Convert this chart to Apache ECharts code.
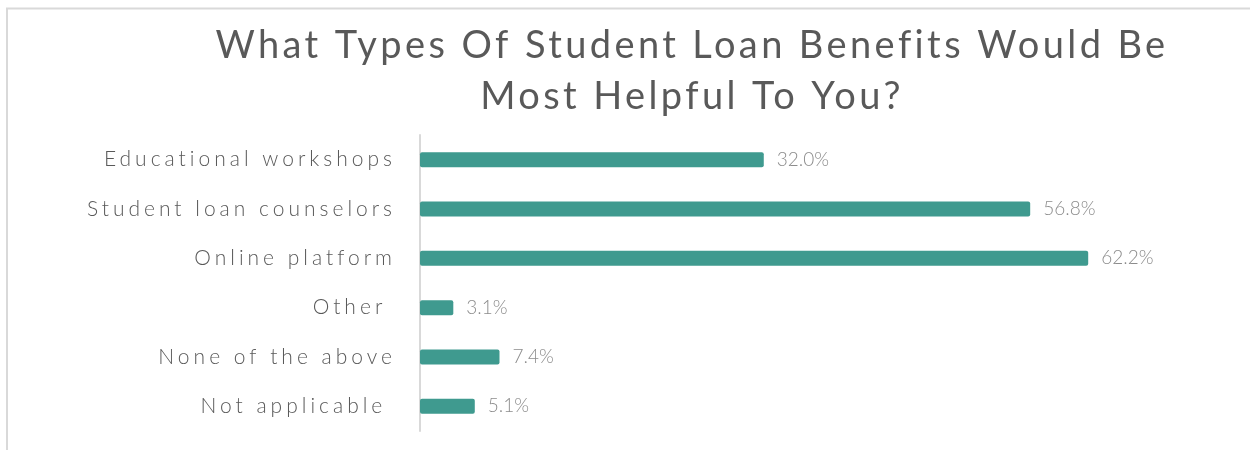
<!DOCTYPE html>
<html>
<head>
<meta charset="utf-8">
<script src="https://cdn.jsdelivr.net/npm/echarts@6/dist/echarts.min.js"></script>
<style>
  html, body { margin: 0; padding: 0; background: #ffffff; }
  #chart { width: 1250px; height: 450px; }
</style>
</head>
<body>
<div id="chart"></div>
<script>
// Survey answers, shares of respondents in percent
const categories = [
  'Educational workshops',
  'Student loan counselors',
  'Online platform',
  'Other ',
  'None of the above',
  'Not applicable '
];
const shares = [32.0, 56.8, 62.2, 3.1, 7.4, 5.1];
const titleText = 'What Types Of Student Loan Benefits Would Be\nMost Helpful To You?';

// Canvas text has no letter-spacing option in the chart config, so apply
// tracking per font size when text is painted.
const TRACKING = { '21px': '4px', '38px': '3.4px' };
(function () {
  const proto = CanvasRenderingContext2D.prototype;
  const origFill = proto.fillText;
  proto.fillText = function (t, x, y, w) {
    let ls = '0px';
    for (const k in TRACKING) {
      if (this.font && this.font.indexOf(k) !== -1) { ls = TRACKING[k]; break; }
    }
    if ('letterSpacing' in this) this.letterSpacing = ls;
    return w === undefined ? origFill.call(this, t, x, y) : origFill.call(this, t, x, y, w);
  };
})();

const chart = echarts.init(document.getElementById('chart'), null, { renderer: 'canvas' });

chart.setOption({
  animation: false,
  backgroundColor: '#ffffff',
  title: {
    text: titleText,
    left: 692,
    top: 20,
    textAlign: 'center',
    padding: 0,
    textStyle: {
      fontFamily: 'Lato',
      fontWeight: 400,
      fontSize: 38,
      lineHeight: 51,
      color: '#595959'
    }
  },
  graphic: [{
    type: 'rect',
    silent: true,
    z: -1,
    shape: { x: 7, y: 8.5, width: 1400, height: 600 },
    style: { fill: 'none', stroke: '#d9d9d9', lineWidth: 2 }
  }],
  grid: { left: 420, top: 135, width: 752, height: 296 },
  xAxis: {
    type: 'value',
    min: 0,
    max: 70,
    show: false,
    splitLine: { show: false }
  },
  yAxis: {
    type: 'category',
    data: categories,
    inverse: true,
    axisLine: { show: true, lineStyle: { color: '#d9d9d9', width: 2 } },
    axisTick: { show: false },
    axisLabel: {
      margin: 24,
      fontFamily: 'Lato',
      fontWeight: 300,
      fontSize: 21,
      color: '#595959'
    }
  },
  series: [{
    type: 'bar',
    data: shares,
    barWidth: 15,
    itemStyle: { color: '#3f9a8f', borderRadius: 2 },
    label: {
      show: true,
      position: 'right',
      distance: 13,
      fontFamily: 'Lato',
      fontWeight: 300,
      fontSize: 19,
      color: '#8c8c8c',
      formatter: p => p.value.toFixed(1) + '%'
    }
  }]
});
</script>
</body>
</html>
